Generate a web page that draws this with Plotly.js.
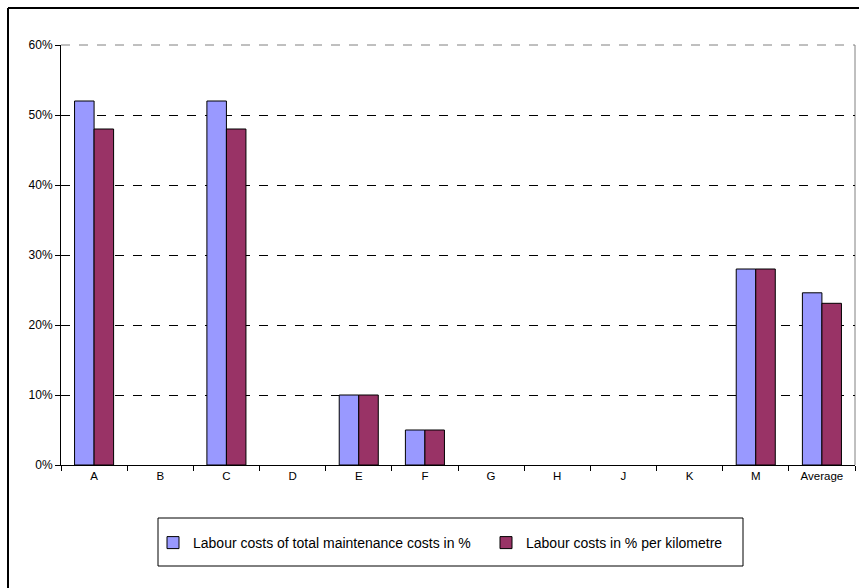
<!DOCTYPE html>
<html>
<head>
<meta charset="utf-8">
<script src="https://cdn.plot.ly/plotly-3.0.1.min.js"></script>
<style>
html,body{margin:0;padding:0;background:#fff;}
#chart{width:859px;height:588px;}
</style>
</head>
<body>
<div id="chart"></div>
<script>
const categories = ["A","B","C","D","E","F","G","H","J","K","M","Average"];
const totalMaintenanceShare = [0.52,null,0.52,null,0.10,0.05,null,null,null,null,0.28,0.246];
const perKilometreShare = [0.48,null,0.48,null,0.10,0.05,null,null,null,null,0.28,0.231];
const seriesNames = ["Labour costs of total maintenance costs in %","Labour costs in % per kilometre"];
const yTicks = [0,0.1,0.2,0.3,0.4,0.5,0.6];
const yTickLabels = ["0%","10%","20%","30%","40%","50%","60%"];

const W = 859, H = 588;
const L = 61, R = 4, T = 45, B = 123;
const pw = W - L - R, ph = H - T - B;
const px = v => (v - L) / pw;
const py = v => (H - B - v) / ph;

const traces = [
  {type:'bar', name:seriesNames[0], x:categories, y:totalMaintenanceShare, legend:'legend',
   marker:{color:'#9999FF', line:{color:'#000000', width:1}}},
  {type:'bar', name:seriesNames[1], x:categories, y:perKilometreShare, legend:'legend2',
   marker:{color:'#993366', line:{color:'#000000', width:1}}}
];

const legFont = {size:14, family:'Liberation Sans, Arial, sans-serif', color:'#000'};
const layout = {
  width:W, height:H,
  margin:{l:L, r:R, t:T, b:B},
  paper_bgcolor:'#ffffff', plot_bgcolor:'#ffffff',
  font:{family:'Liberation Sans, Arial, sans-serif', size:11, color:'#000'},
  barmode:'group', bargap:0.41, bargroupgap:0,
  showlegend:true,
  legend:{orientation:'h', x:px(153), y:py(527), xanchor:'left', yanchor:'top',
          font:legFont, bgcolor:'rgba(0,0,0,0)', borderwidth:0, itemwidth:30},
  legend2:{orientation:'h', x:px(486), y:py(527), xanchor:'left', yanchor:'top',
          font:legFont, bgcolor:'rgba(0,0,0,0)', borderwidth:0, itemwidth:30},
  xaxis:{type:'category', tickson:'boundaries', ticks:'outside', ticklen:5, tickcolor:'#000',
         showline:true, linecolor:'#000', linewidth:1, showgrid:false, zeroline:false,
         tickfont:{size:11.5}, fixedrange:true},
  yaxis:{range:[0,0.6], tickvals:yTicks, ticktext:yTickLabels, ticks:'outside', ticklen:5,
         tickcolor:'#000', showline:true, linecolor:'#000', linewidth:1,
         showgrid:true, gridcolor:'#000', gridwidth:1, griddash:'dash', zeroline:false,
         tickfont:{size:12}, fixedrange:true},
  shapes:[
    {type:'line', xref:'paper', yref:'paper', x0:px(L), x1:px(855), y0:1, y1:1, line:{color:'#808080', width:1, dash:'dash'}, layer:'above'},
    {type:'line', xref:'paper', yref:'paper', x0:px(855), x1:px(855), y0:0, y1:1, line:{color:'#808080', width:1}, layer:'below'},
    {type:'rect', xref:'paper', yref:'paper', x0:px(158), x1:px(743), y0:py(518), y1:py(566), line:{color:'#000', width:1}},
    {type:'line', xref:'paper', yref:'paper', x0:px(8), x1:px(870), y0:py(8), y1:py(8), line:{color:'#000', width:2}},
    {type:'line', xref:'paper', yref:'paper', x0:px(8), x1:px(8), y0:py(8), y1:py(600), line:{color:'#000', width:2}}
  ]
};

Plotly.newPlot('chart', traces, layout, {displayModeBar:false, staticPlot:true});
</script>
</body>
</html>
